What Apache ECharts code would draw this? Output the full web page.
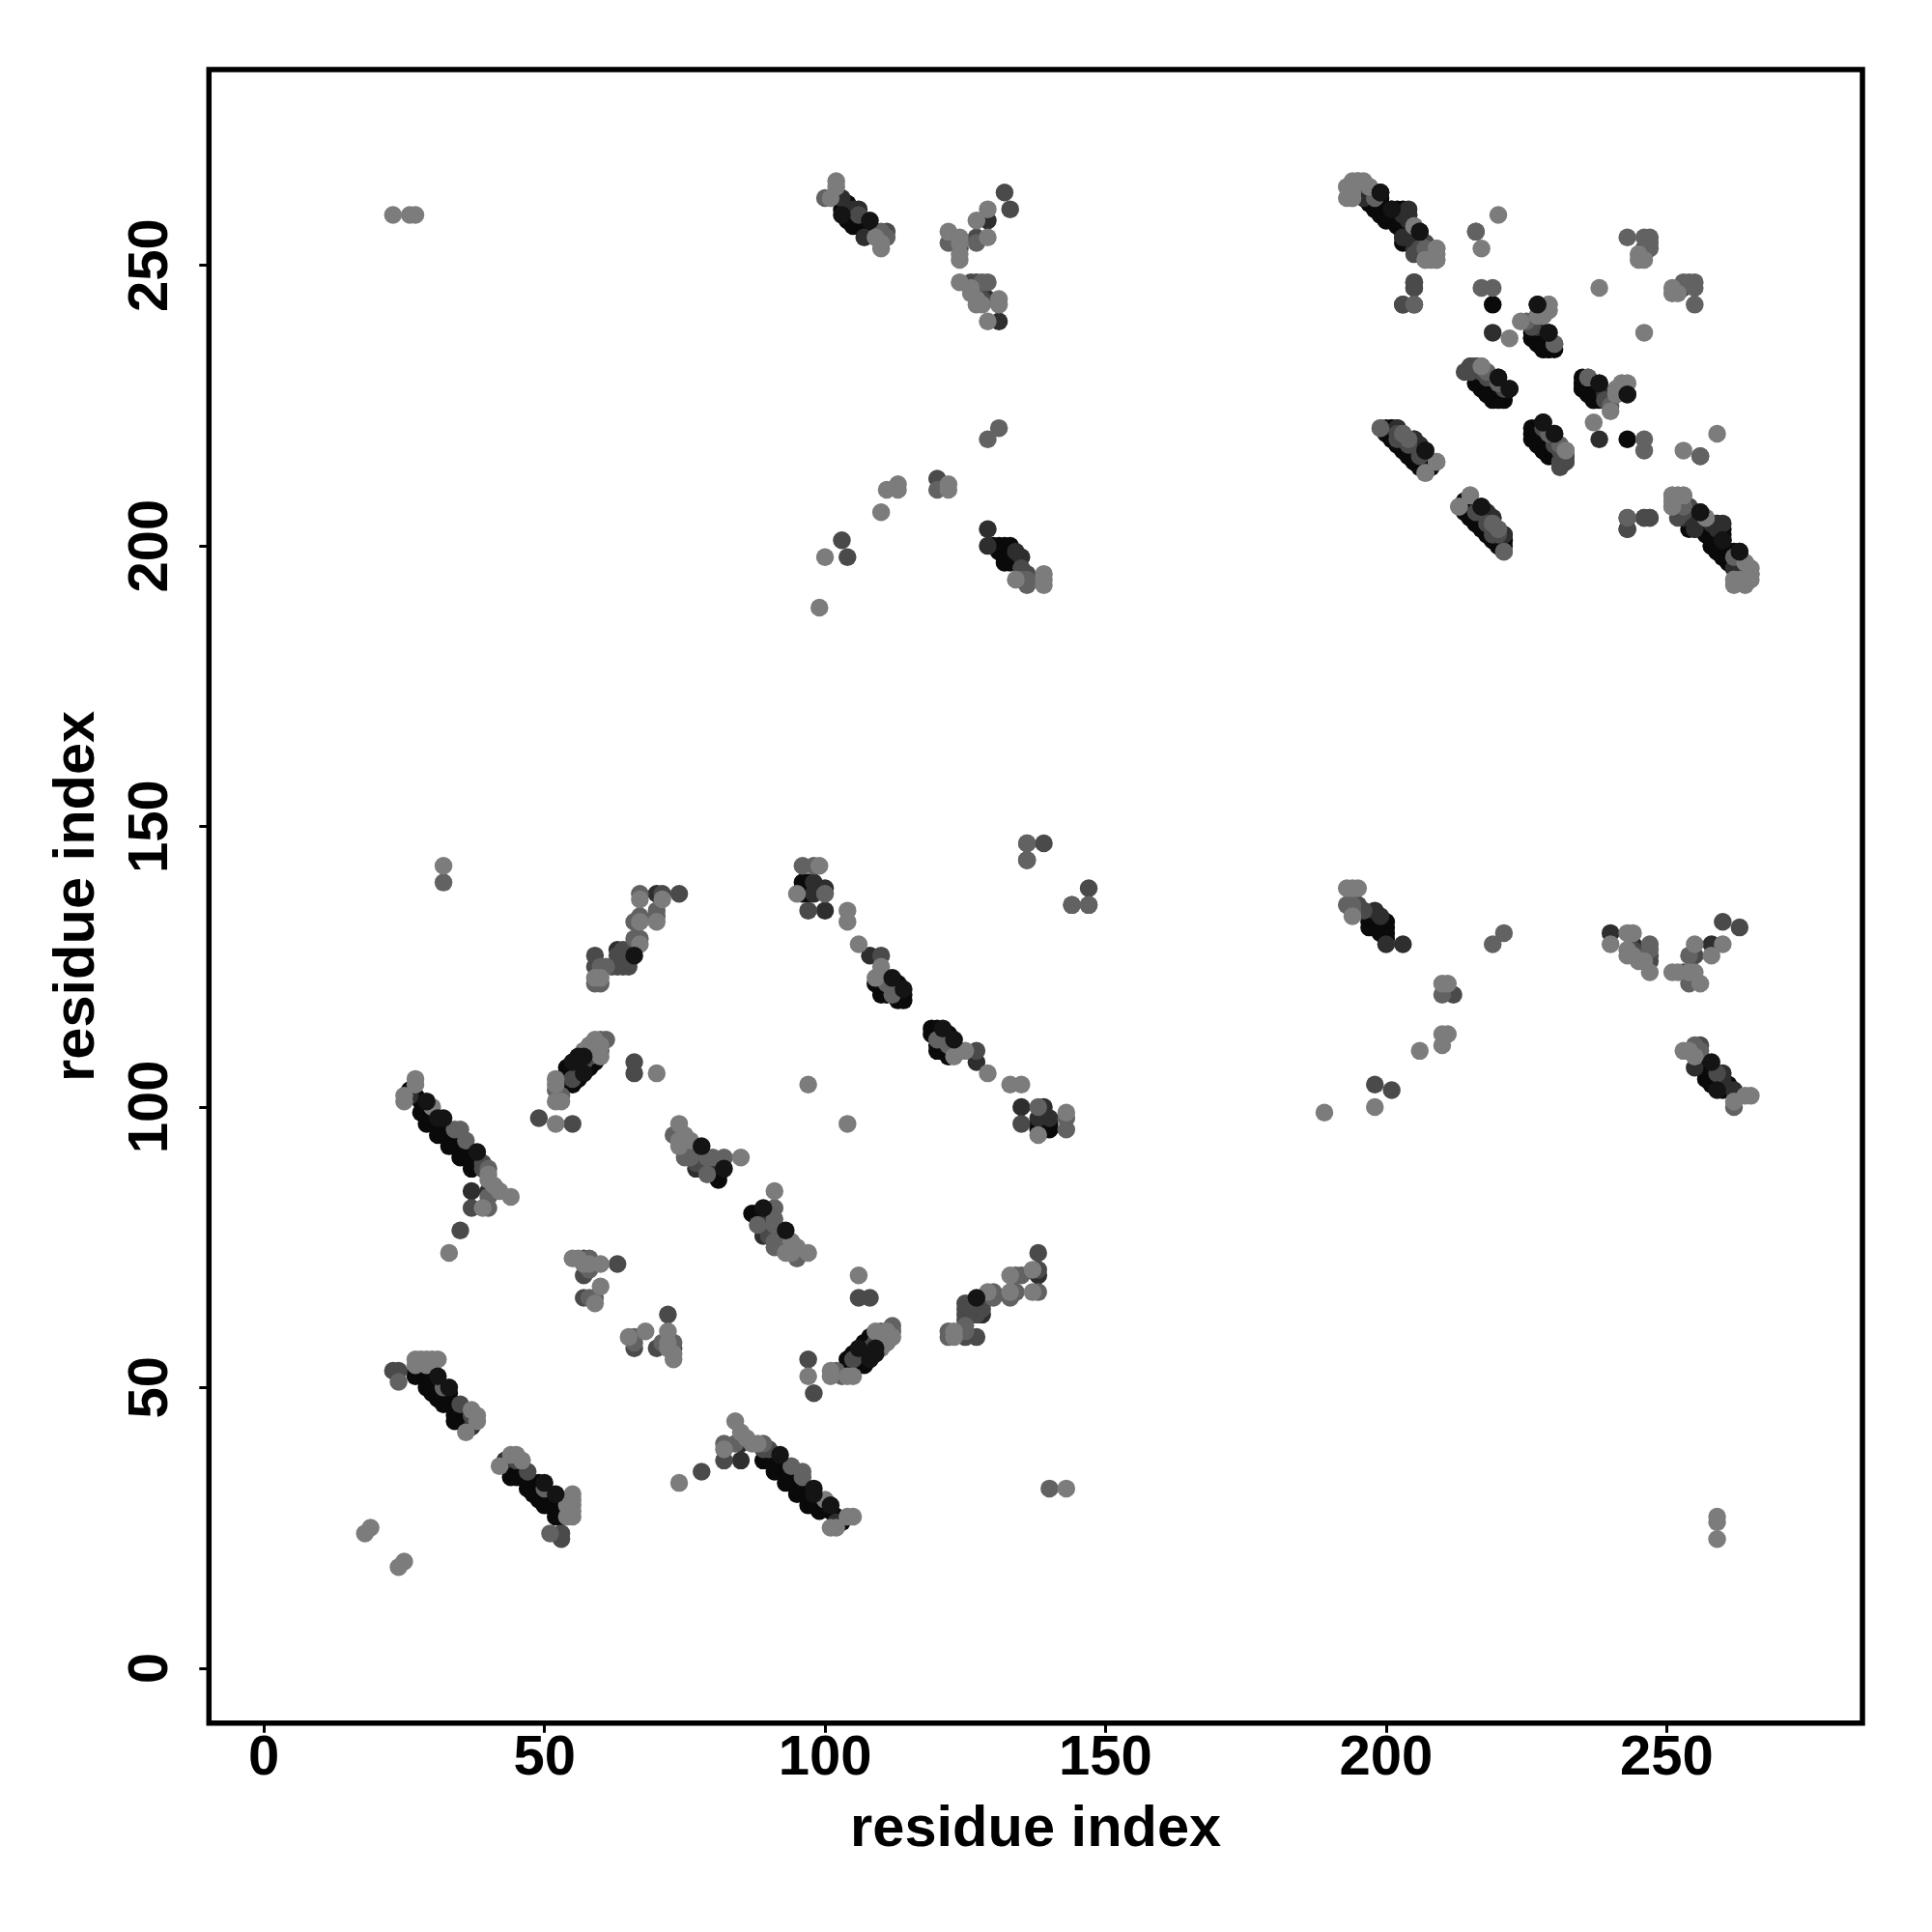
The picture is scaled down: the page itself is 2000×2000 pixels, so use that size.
<!DOCTYPE html>
<html><head><meta charset="utf-8">
<style>html,body{margin:0;background:#fff}#c{width:2000px;height:2000px}</style>
<script src="https://cdn.jsdelivr.net/npm/echarts@6/dist/echarts.min.js"></script></head>
<body><div id="c"></div>
<script>
const tickValues=[0,50,100,150,200,250];
const axisTitle="residue index";
// residue contacts [i,j]; the map is symmetric, each is plotted as (i,j) and (j,i)
const contactsBlack=[[26,103],[27,102],[28,101],[29,100],[28,99],[29,98],[29,97],[30,99],[30,98],[31,97],[31,96],[31,95],[32,96],[32,95],[33,95],[33,94],[33,93],[34,94],[34,93],[35,93],[35,92],[35,91],[36,92],[36,91],[37,91],[37,90],[37,89],[38,91],[38,90],
[28,52],[28,53],[27,53],[27,52],[29,52],[29,51],[29,50],[30,52],[30,51],[30,50],[30,49],[31,51],[31,50],[31,49],[31,48],[32,49],[32,48],[32,47],[33,49],[33,48],[33,47],[34,47],[34,46],[34,45],[34,44],[35,46],[35,45],[35,44],[36,45],[36,44],[36,43],
[54,107],[54,106],[54,105],[53,105],[55,106],[55,104],[56,108],[56,107],[56,105],[57,107],[58,110],[58,108],[58,107],[59,109],[59,108],
[64,127],[65,126],[65,127],[65,128],[66,128],[66,129],
[81,87],[79,89],[80,89],[80,90],[81,88],
[96,140],[96,138],[97,140],[97,139],[97,138],[96,139],
[111,123],[110,121],[113,119],[111,120],[110,120],[112,122],[113,120],[113,121],[109,122],[110,123],[110,122],[111,121],[112,121],[114,120],[113,122],[114,119],
[103,260],[104,261],[104,258],[105,259],[105,258],[105,257],[106,258],[106,257],[107,258],[107,257],[107,256],[108,257],[109,256],
[130,200],[131,200],[132,200],[133,200],[131,199],[132,198],[132,197],[133,197],[133,199],[133,198],[134,197],
[198,262],[197,261],[198,260],[199,261],[200,260],[199,259],[200,258],[201,259],[202,258],[203,257],[205,255],[204,255],[203,256],[204,256],[203,254],
[219,243],[227,243],[226,238],[226,237],[227,237],[227,238],[228,238],[228,236],[228,235],[229,235],[229,236],[230,235],
[216,229],[217,229],[216,230],[217,228],[218,227],[219,227],[219,226],[220,226],[220,230],[221,227],[220,229],[220,228],[221,226],
[235,228],[235,229],[236,227],[238,228],[237,226],[237,227],[238,227],
[201,221],[202,218],[201,220],[201,219],[203,218],[203,217],[204,216],[204,217],[205,216],[205,215],[206,215],[206,214],[207,216],[207,215],[208,214],
[227,221],[227,220],[227,219],[228,220],[228,218],[228,217],[229,216],[229,217],[229,218],[230,216],[229,219],[230,217],[227,218],
[216,206],[215,205],[216,204],[217,205],[217,204],[218,203],[218,202],[219,202],[219,201],[220,201],[220,200],[221,200],[216,207],[218,205],[221,201],
[255,205],[254,204],[255,203],[256,204],[256,203],[257,203],[257,202],[258,202],[258,200],[258,201],[259,201],[260,203],[260,200],[259,199],[260,198],[261,199],[261,198],[262,199],[262,197],[262,196],[263,198],[263,196],[260,202],[259,203]];
const contactsDark=[[26,102],[37,85],[40,85],[37,43],[63,128],[70,138],[76,93],[78,92],[98,140],[100,139],[98,138],[100,135],[108,127],[103,262],[105,260],[106,260],[107,255],[129,203],[129,200],[135,198],[134,199],[196,262],[196,263],[204,259],[203,259],[203,255],[205,253],[205,246],[219,238],[227,241],[227,240],[227,239],[219,230],[240,227],[239,227],[202,221],[205,219],[206,218],[205,218],[206,217],[232,216],[232,215],[231,215],[219,205],[219,204],[218,204],[219,203],[221,202],[253,205],[254,205],[258,204],[259,204],[260,204],[243,203],[131,240],[129,258],[129,244],[78,90],[78,91],[79,90],[77,89],[81,90]];
const contactsDim=[[35,78],[39,90],[39,89],[37,82],[23,53],[24,53],[37,45],[35,47],[55,97],[49,98],[66,108],[66,106],[63,72],[57,73],[57,70],[57,66],[59,127],[59,125],[71,138],[74,138],[64,125],[65,125],[62,125],[63,125],[63,126],[63,127],[64,126],[64,128],[77,90],[97,135],[110,127],[136,144],[139,147],[136,147],[103,201],[104,198],[120,212],[132,263],[133,260],[127,255],[126,247],[127,247],[127,245],[128,244],[124,253],[111,256],[106,259],[135,196],[136,195],[207,254],[205,252],[197,264],[205,247],[203,243],[215,232],[214,231],[215,231],[216,232],[217,232],[221,228],[236,230],[239,226],[203,219],[202,219],[204,218],[206,216],[220,202],[231,217],[230,218],[221,199],[246,253],[256,216],[243,205],[246,205],[247,205],[254,207],[253,206],[55,105],[56,106],[57,108],[58,109]];
const contactsMid=[[32,140],[24,51],[35,96],[36,94],[34,96],[40,89],[40,84],[40,82],[32,50],[58,73],[57,72],[59,66],[58,66],[58,71],[61,112],[60,110],[53,102],[52,103],[59,110],[59,111],[60,112],[67,138],[70,135],[66,133],[67,130],[66,130],[67,134],[70,134],[60,125],[61,125],[59,122],[60,122],[73,95],[79,91],[79,88],[82,91],[75,91],[76,91],[80,91],[96,143],[98,143],[100,138],[112,120],[111,122],[136,147],[136,194],[136,193],[135,194],[136,144],[120,210],[129,219],[131,221],[128,247],[129,247],[127,254],[122,254],[111,255],[110,256],[100,262],[207,253],[216,256],[217,246],[219,246],[205,243],[230,236],[246,255],[247,255],[246,252],[247,253],[247,254],[243,255],[225,240],[199,221],[203,220],[204,219],[229,220],[231,218],[220,203],[262,198]];
const contactsLight=[[18,24],[19,25],[33,74],[32,143],[25,101],[25,102],[27,105],[27,104],[30,100],[40,88],[40,87],[41,86],[42,85],[39,82],[44,84],[27,55],[28,55],[29,55],[30,55],[31,55],[27,54],[37,46],[38,44],[36,42],[38,45],[29,54],[55,73],[56,73],[58,72],[60,72],[60,68],[59,65],[57,72],[52,97],[52,101],[53,101],[58,111],[59,112],[60,111],[52,105],[52,104],[60,109],[57,110],[70,106],[67,133],[70,133],[67,137],[67,129],[60,123],[59,123],[71,137],[99,143],[95,138],[104,135],[104,133],[106,129],[97,104],[109,123],[110,124],[110,125],[74,97],[75,95],[74,93],[85,91],[74,94],[76,94],[99,189],[100,198],[110,206],[111,210],[113,211],[113,210],[122,211],[122,210],[134,194],[139,195],[139,194],[139,193],[102,265],[102,264],[101,262],[110,253],[109,255],[110,254],[129,260],[127,258],[129,255],[122,256],[124,254],[124,251],[124,252],[124,255],[124,247],[126,245],[131,244],[131,243],[127,243],[128,243],[127,244],[129,240],[126,246],[23,259],[26,259],[27,259],[194,265],[195,265],[193,264],[194,262],[193,262],[205,257],[209,253],[209,252],[209,251],[207,251],[208,251],[220,259],[217,253],[222,237],[238,246],[229,243],[229,242],[224,240],[245,251],[246,251],[245,252],[213,207],[215,209],[251,209],[252,209],[253,209],[251,207],[257,205],[262,194],[263,194],[264,194],[265,195],[264,197],[265,196],[242,229],[243,229],[241,227],[241,228],[232,217],[209,215],[207,213]];
const contactsTop=[[29,101],[32,98],[31,98],[38,92],[31,52],[33,50],[55,108],[57,106],[57,109],[56,109],[66,127],[78,93],[82,89],[112,123],[114,121],[103,259],[108,258],[199,263],[201,260],[206,256],[217,207],[207,217],[222,228],[229,238],[238,229],[243,227],[228,222],[230,220],[256,206],[260,201],[263,199]];
const shadeOrder=[["#0a0a0a",contactsBlack],["#2e2e2e",contactsDark],["#4a4a4a",contactsDim],["#626262",contactsMid],["#7c7c7c",contactsLight],["#141414",contactsTop]];
const series=shadeOrder.map(([color,list])=>({
  type:'scatter',symbolSize:18.5,silent:true,animation:false,
  itemStyle:{color,opacity:1},
  data:list.flatMap(([i,j])=>[[i,j],[j,i]])
}));
const font='"Liberation Sans",Arial,sans-serif';
const mkAxis=(rot,margin,gap)=>({
  type:'value',min:-9.8,max:284.9,splitLine:{show:false},
  axisLine:{show:false,onZero:false},
  axisTick:{show:true,length:10,customValues:tickValues,lineStyle:{color:'#000',width:3}},
  axisLabel:{show:true,customValues:tickValues,rotate:rot,margin,color:'#000',fontFamily:font,fontWeight:'bold',fontSize:58},
  name:axisTitle,nameLocation:'middle',nameGap:gap,
  nameTextStyle:{color:'#000',fontFamily:font,fontWeight:'bold',fontSize:59.6}
});
const chart=echarts.init(document.getElementById('c'),null,{renderer:'canvas'});
chart.setOption({
  backgroundColor:'#fff',animation:false,
  grid:{show:true,left:216.3,top:72,width:1711.7,height:1711.7,borderColor:'#000',borderWidth:5.5,backgroundColor:'#fff'},
  xAxis:mkAxis(0,8,81),yAxis:mkAxis(90,30,106),
  series
});
</script></body></html>
